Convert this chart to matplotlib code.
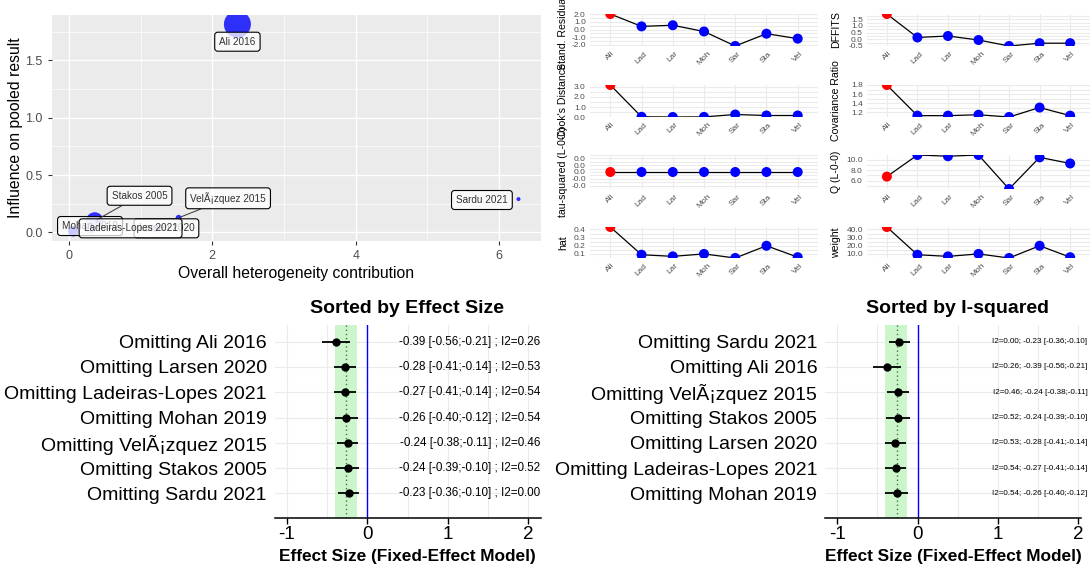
import numpy as np
import matplotlib
matplotlib.use('Agg')
import matplotlib.pyplot as plt
from matplotlib.ticker import MultipleLocator, FormatStrFormatter

plt.rcParams['font.family'] = ['Liberation Sans', 'DejaVu Sans']

# ---- data (study order: alphabetical) ----
studies = ["Ali 2016", "Ladeiras-Lopes 2021", "Larsen 2020", "Mohan 2019",
           "Sardu 2021", "Stakos 2005", "VelÃ¡zquez 2015"]

# Baujat plot
het_contrib = [2.35, 0.30, 1.20, 0.06, 6.27, 0.36, 1.53]
influence = [1.815, 0.03, 0.03, 0.01, 0.29, 0.10, 0.127]

# influence diagnostics
rstudent = [2.05, 0.42, 0.57, -0.25, -2.16, -0.54, -1.19]
cooks_d = [3.2, 0.02, 0.0, 0.01, 0.25, 0.15, 0.15]
tau2_del = [0.0, 0.0, 0.0, 0.0, 0.0, 0.0, 0.0]
hat = [0.43, 0.09, 0.07, 0.10, 0.05, 0.20, 0.06]
dffits = [1.9, 0.14, 0.25, -0.05, -0.5, -0.29, -0.29]
cov_r = [1.8, 1.12, 1.12, 1.14, 1.09, 1.30, 1.12]
q_del = [6.76, 10.87, 10.64, 10.87, 4.4, 10.42, 9.26]
weight = [43, 9, 7, 10, 5, 20, 6]
influential = [True, False, False, False, False, False, False]

# leave-one-out results
loo_est = [-0.386, -0.274, -0.276, -0.262, -0.232, -0.241, -0.244]
loo_lo = [-0.56, -0.41, -0.41, -0.40, -0.36, -0.39, -0.38]
loo_hi = [-0.21, -0.14, -0.14, -0.12, -0.10, -0.10, -0.11]
loo_i2 = [0.26, 0.538, 0.53, 0.541, 0.0, 0.52, 0.46]
pooled_est, pooled_lo, pooled_hi = -0.26, -0.40, -0.13

W, H = 1092, 569
fig = plt.figure(figsize=(W / 100, H / 100), dpi=100)


def px_rect(l, t, r, b):
    return [l / W, 1 - b / H, (r - l) / W, (b - t) / H]


# ---------------- Baujat plot ----------------
ax = fig.add_axes(px_rect(51.7, 15, 540.7, 240.7))
ax.set_facecolor('#EBEBEB')
for s in ax.spines.values():
    s.set_visible(False)
ax.set_xlim(-0.24, 6.58)
ax.set_ylim(-0.073, 1.896)
ax.xaxis.set_major_locator(MultipleLocator(2))
ax.xaxis.set_minor_locator(MultipleLocator(1))
ax.yaxis.set_major_locator(MultipleLocator(0.5))
ax.yaxis.set_minor_locator(MultipleLocator(0.25))
ax.yaxis.set_major_formatter(FormatStrFormatter('%.1f'))
ax.grid(which='major', color='white', lw=1.0)
ax.grid(which='minor', color='white', lw=0.5)
ax.set_axisbelow(True)
ax.tick_params(which='major', color='#333333', labelcolor='#4D4D4D',
               labelsize=9, length=3, width=0.8)
ax.tick_params(which='minor', length=0)

w = np.array(weight, dtype=float)
diam = np.sqrt(16 + 713 * (w - w.min()) / (w.max() - w.min()))
ax.scatter(het_contrib, influence, s=(diam * 0.72) ** 2, color='#0000FF',
           alpha=0.8, lw=0, zorder=3)

label_xy = {
    "Mohan 2019": (0.295, 0.055),
    "Stakos 2005": (0.985, 0.319),
    "VelÃ¡zquez 2015": (2.22, 0.297),
    "Sardu 2021": (5.76, 0.282),
    "Ali 2016": (2.35, 1.663),
    "Larsen 2020": (1.36, 0.035),
    "Ladeiras-Lopes 2021": (0.86, 0.035),
}
with_segment = ["Stakos 2005", "VelÃ¡zquez 2015"]
for name, txy in label_xy.items():
    i = studies.index(name)
    ap = None
    if name in with_segment:
        ap = dict(arrowstyle='-', color='#333333', lw=0.7, shrinkA=0, shrinkB=1)
    ax.annotate(name, xy=(het_contrib[i], influence[i]), xytext=txy,
                ha='center', va='center', fontsize=7.2, color='#333333',
                bbox=dict(boxstyle='round,pad=0.45,rounding_size=0.3',
                          fc=(1, 1, 1, 0.75), ec='black', lw=0.8),
                arrowprops=ap, zorder=4)

ax.set_xlabel('Overall heterogeneity contribution', fontsize=11.3, color='black')
ax.set_ylabel('Influence on pooled result', fontsize=11.3, color='black')
ax.xaxis.set_label_coords(0.5, -0.112)
ax.yaxis.set_label_coords(-0.058, 0.5)

# ---------------- influence diagnostics ----------------
short = [s[:3] for s in studies]
cols = {0: (590, 818), 1: (867, 1090)}
rows = [(14, 46), (85, 117), (155, 189), (227, 258)]
panels = [
    (rstudent, 'Stand. Residuals', 1.0, 0, 0),
    (cooks_d, "Cook's Distance", 1.0, 0, 1),
    (tau2_del, 'tau-squared (L-0-0)', 0.02, 0, 2),
    (hat, 'hat', 0.1, 0, 3),
    (dffits, 'DFFITS', 0.5, 1, 0),
    (cov_r, 'Covariance Ratio', 0.2, 1, 1),
    (q_del, 'Q (L-0-0)', 2.0, 1, 2),
    (weight, 'weight', 10.0, 1, 3),
]
pt_colors = ['red' if f else 'blue' for f in influential]
for vals, lab, step, c, r in panels:
    l, rr = cols[c]
    t, b = rows[r]
    a = fig.add_axes(px_rect(l, t, rr, b))
    for s in a.spines.values():
        s.set_visible(False)
    x = np.arange(len(vals))
    a.plot(x, vals, color='black', lw=0.9, zorder=2)
    a.scatter(x, vals, s=52, c=pt_colors, lw=0, zorder=3)
    lo, hi = min(vals), max(vals)
    if hi - lo == 0:
        lo, hi = lo - 0.05, hi + 0.05
    a.set_ylim(lo, hi)
    a.set_xlim(-0.65, len(vals) - 1 + 0.65)
    a.yaxis.set_major_locator(MultipleLocator(step))
    a.yaxis.set_minor_locator(MultipleLocator(step / 2))
    a.yaxis.set_major_formatter(FormatStrFormatter('%.1f'))
    a.set_xticks(x)
    a.set_xticklabels(short, rotation=45, ha='center', va='top')
    a.grid(which='both', axis='y', color='#EBEBEB', lw=0.8)
    a.grid(which='major', axis='x', color='#EBEBEB', lw=0.8)
    a.set_axisbelow(True)
    a.tick_params(which='both', length=0, labelsize=6, labelcolor='#4D4D4D')
    a.tick_params(axis='y', pad=3)
    a.tick_params(axis='x', pad=3)
    a.set_ylabel(lab, fontsize=7.6, color='black')
    a.yaxis.set_label_coords(-22 / (rr - l) if c == 0 else -26 / (rr - l), 0.5)

# ---------------- leave-one-out forest plots ----------------
def forest(rect, xmax, order, title, title_x, fmt, txt_x, txt_size, lab_pad):
    a = fig.add_axes(px_rect(*rect))
    for k in ['top', 'right', 'left']:
        a.spines[k].set_visible(False)
    a.spines['bottom'].set_linewidth(1.1)
    n = len(order)
    ypos = np.arange(n)
    a.set_xlim(-1.15, xmax)
    a.set_ylim(n - 1 + 0.96, -0.66)
    a.axvspan(pooled_lo, pooled_hi, color='#ccf5cc', lw=0, zorder=1)
    a.axvline(pooled_est, color='#3a7a3a', lw=1.0, ls=(0, (1, 2)), zorder=2)
    a.axvline(0, color='blue', lw=1.0, zorder=2)
    for gx in np.arange(-1, 2.01, 0.5):
        a.axvline(gx, color='#EBEBEB', lw=0.8, zorder=0)
    for gy in ypos:
        a.axhline(gy, color='#EBEBEB', lw=0.8, zorder=0)
    est = [loo_est[i] for i in order]
    lo = [loo_lo[i] for i in order]
    hi = [loo_hi[i] for i in order]
    a.hlines(ypos, lo, hi, color='black', lw=1.3, zorder=3)
    a.scatter(est, ypos, s=36, color='black', lw=0, zorder=4)
    for yy, i in zip(ypos, order):
        a.text(txt_x, yy, fmt(i), transform=a.get_yaxis_transform(),
               ha='right', va='center', fontsize=txt_size, color='black',
               clip_on=False)
    a.set_yticks(ypos)
    a.set_yticklabels(['Omitting ' + studies[i] for i in order])
    a.tick_params(axis='y', length=0, labelsize=14, pad=lab_pad)
    a.set_xticks([-1, 0, 1, 2])
    a.set_xticklabels(['-1', '0', '1', '2'])
    a.tick_params(axis='x', length=4, width=1.0, labelsize=13.5, pad=2)
    a.set_xlabel('Effect Size (Fixed-Effect Model)', fontsize=12.4,
                 fontweight='bold')
    a.xaxis.set_label_coords(0.5, -0.16)
    fig.text(title_x / W, 1 - 308.3 / H, title, ha='center', va='center',
             fontsize=14, fontweight='bold')


order_es = list(np.argsort(loo_est, kind='stable'))
order_i2 = list(np.argsort(loo_i2, kind='stable'))

forest((274.6, 325, 540.5, 517.7), 2.15, order_es, 'Sorted by Effect Size', 406.6,
       lambda i: f"{loo_est[i]:.2f} [{loo_lo[i]:.2f};{loo_hi[i]:.2f}] ; I2={loo_i2[i]:.2f}",
       1.0, 8.4, 5.5)
forest((825.2, 325, 1080.6, 517.7), 2.03, order_i2, 'Sorted by I-squared', 957.6,
       lambda i: f"I2={loo_i2[i]:.2f}; {loo_est[i]:.2f} [{loo_lo[i]:.2f};{loo_hi[i]:.2f}]",
       1.027, 5.8, 5.8)

fig.savefig('out.png', dpi=100)
